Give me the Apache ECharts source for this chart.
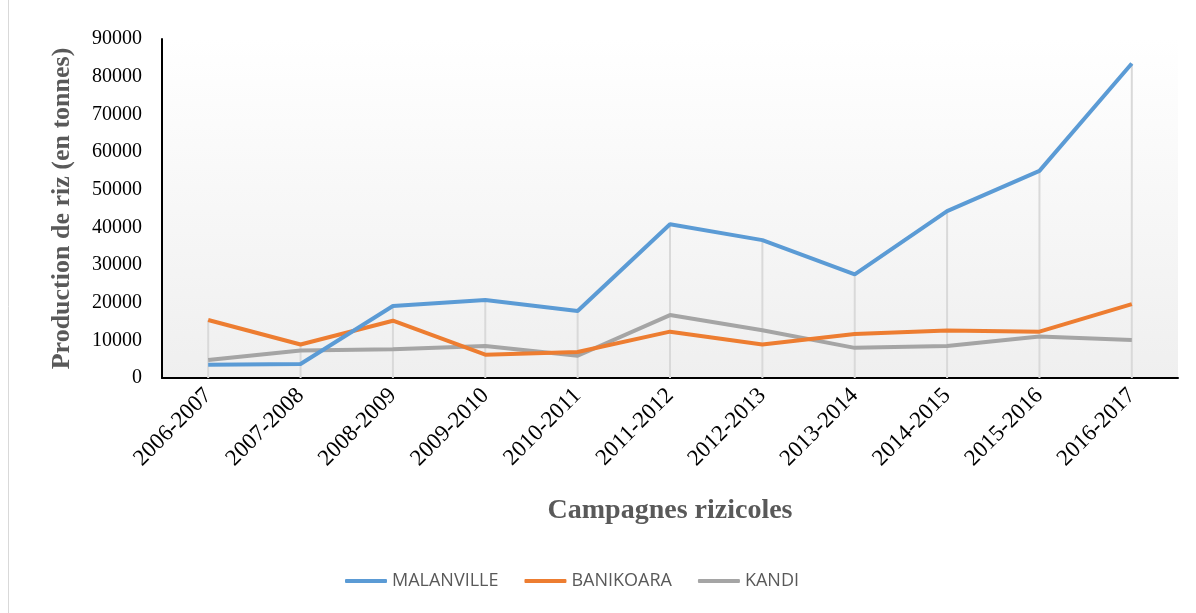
<!DOCTYPE html>
<html><head><meta charset="utf-8">
<script src="https://cdn.jsdelivr.net/npm/echarts@6/dist/echarts.min.js"></script>
<style>html,body{margin:0;padding:0;background:#fff}#c{width:1196px;height:613px}</style>
</head><body><div id="c"></div>
<script>
const categories = ['2006-2007','2007-2008','2008-2009','2009-2010','2010-2011','2011-2012','2012-2013','2013-2014','2014-2015','2015-2016','2016-2017'];
const malanville = [3500, 3700, 19100, 20700, 17800, 40800, 36600, 27500, 44300, 55000, 83500];
const banikoara = [15400, 8900, 15200, 6200, 6900, 12300, 8900, 11700, 12600, 12300, 19600];
const kandi = [4800, 7300, 7600, 8500, 5900, 16700, 12700, 8000, 8500, 11000, 10100];
const yTicks = [0, 10000, 20000, 30000, 40000, 50000, 60000, 70000, 80000, 90000];

const dropLines = categories.map((_, i) => Math.max(malanville[i], banikoara[i], kandi[i]));
const chart = echarts.init(document.getElementById('c'));
const serif = 'Liberation Serif';
chart.setOption({
  animation: false,
  backgroundColor: '#fff',
  graphic: [{type:'rect', shape:{x:8.5,y:-5,width:1200,height:640}, style:{fill:'none', stroke:'#d9d9d9', lineWidth:1}, silent:true, z:-10}],
  grid: {left:162, right:18, top:39, bottom:235, show:true, borderWidth:0,
    backgroundColor: new echarts.graphic.LinearGradient(0,0,0,1,[{offset:0,color:'#ffffff'},{offset:1,color:'#efefef'}])},
  legend: {bottom: 18, left: 340, itemGap: 26, itemWidth: 42, itemHeight: 4, icon: 'roundRect',
    textStyle: {fontFamily: 'Open Sans', fontSize: 18, color: '#595959'},
    data: ['MALANVILLE','BANIKOARA','KANDI']},
  xAxis: {type:'category', data: categories, boundaryGap: true,
    name: 'Campagnes rizicoles', nameLocation: 'middle', nameGap: 119,
    nameTextStyle: {fontFamily: serif, fontSize: 28, fontWeight: 'bold', color: '#595959'},
    axisLine: {lineStyle: {color: '#000', width: 2}}, axisTick: {show: false},
    axisLabel: {rotate: 45, margin: 14, fontFamily: serif, fontSize: 23, color: '#000', interval: 0},
    splitLine: {show: false}},
  yAxis: {type:'value', min: yTicks[0], max: yTicks[yTicks.length-1], interval: 10000,
    name: 'Production de riz (en tonnes)', nameLocation: 'middle', nameGap: 87,
    nameTextStyle: {fontFamily: serif, fontSize: 26, fontWeight: 'bold', color: '#595959'},
    axisLine: {show: true, lineStyle: {color: '#000', width: 2}}, axisTick: {show: false},
    axisLabel: {margin: 20, fontFamily: serif, fontSize: 20, color: '#000', formatter: v => String(v)},
    splitLine: {show: false}},
  series: [
    {name:'drop', type:'bar', data: dropLines, barWidth: 2, silent: true, itemStyle:{color:'#d9d9d9'}, z: 1},
    {name:'MALANVILLE', type:'line', data: malanville, symbol:'none', lineStyle:{width:4, color:'#5B9BD5'}, itemStyle:{color:'#5B9BD5'}, z: 5},
    {name:'BANIKOARA', type:'line', data: banikoara, symbol:'none', lineStyle:{width:4, color:'#ED7D31'}, itemStyle:{color:'#ED7D31'}, z: 4},
    {name:'KANDI', type:'line', data: kandi, symbol:'none', lineStyle:{width:4, color:'#A5A5A5'}, itemStyle:{color:'#A5A5A5'}, z: 3}
  ]
});
</script></body></html>
